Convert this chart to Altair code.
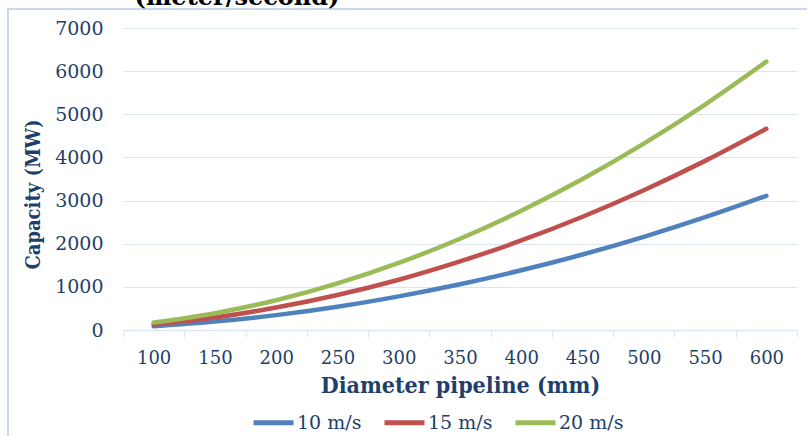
import altair as alt
import pandas as pd

diameters = ["100", "150", "200", "250", "300", "350", "400", "450", "500", "550", "600"]
speed_10 = [86, 195, 345, 540, 780, 1060, 1385, 1750, 2160, 2615, 3110]
speed_15 = [130, 290, 520, 810, 1165, 1590, 2075, 2625, 3240, 3920, 4665]
speed_20 = [173, 390, 690, 1080, 1555, 2115, 2765, 3500, 4320, 5225, 6220]
series_names = ["10 m/s", "15 m/s", "20 m/s"]
series_colors = ["#4F81BD", "#C0504D", "#9BBB59"]
y_ticks = [0, 1000, 2000, 3000, 4000, 5000, 6000, 7000]

rows = []
for name, vals in zip(series_names, [speed_10, speed_15, speed_20]):
    for d, v in zip(diameters, vals):
        rows.append({"Diameter": d, "Capacity": v, "Series": name})
df = pd.DataFrame(rows)

TXT = "#1F3F6B"
GRID = "#DCE6F2"
SERIF = "DejaVu Serif"
SERIF_C = "DejaVu Serif Condensed"

lines = alt.Chart(df).mark_line(strokeWidth=4.5, interpolate="monotone", strokeCap="round").encode(
    x=alt.X("Diameter:O", sort=diameters, bandPosition=0.5,
            scale=alt.Scale(type="band", paddingInner=0, paddingOuter=0),
            axis=alt.Axis(title="Diameter pipeline (mm)", labelAngle=0, tickBand="extent",
                          domainColor=GRID, tickColor=GRID, tickSize=7, domainWidth=1.5,
                          labelColor=TXT, labelFont=SERIF, labelFontSize=18, labelPadding=12,
                          titleColor=TXT, titleFont=SERIF_C, titleFontWeight="bold",
                          titleFontSize=23, titlePadding=7, grid=False)),
    y=alt.Y("Capacity:Q", scale=alt.Scale(domain=[0, 7000]),
            axis=alt.Axis(title="Capacity (MW)", values=y_ticks, format="d", domain=False, ticks=False,
                          gridColor=GRID, gridWidth=1.2,
                          labelColor=TXT, labelFont=SERIF, labelFontSize=19, labelPadding=20,
                          titleColor=TXT, titleFont=SERIF_C, titleFontWeight="bold",
                          titleFontSize=20, titleX=-90, titleY=166, titleBaseline="middle",
                          titleAngle=270)),
    color=alt.Color("Series:N", scale=alt.Scale(domain=series_names, range=series_colors),
                    legend=alt.Legend(title=None, orient="none", direction="horizontal",
                                      legendX=128, legendY=372, symbolType="stroke",
                                      symbolSize=1600, symbolStrokeWidth=5,
                                      labelFont=SERIF, labelFontSize=19, labelColor=TXT,
                                      labelOffset=1, columnPadding=12, labelLimit=200)),
)

one = pd.DataFrame({"a": [0]})
frame = alt.Chart(one).mark_rect(fill=None, stroke="#C6D9F1", strokeWidth=2).encode(
    x=alt.value(-115), x2=alt.value(700), y=alt.value(-19), y2=alt.value(420)
)
cut_title = alt.Chart(one).mark_text(text="(meter/second)", font=SERIF, fontWeight="bold",
                                     fontSize=24, color="#000000", align="center",
                                     baseline="alphabetic").encode(
    x=alt.value(114), y=alt.value(-23)
)

chart = alt.layer(frame, lines, cut_title).properties(
    width=674, height=302,
    padding={"left": 123, "top": 28, "right": 10, "bottom": 106},
    autosize=alt.AutoSizeParams(type="none"),
    background="white",
).configure_view(stroke=None)

chart.save("out.html", embed_options={"renderer": "svg", "actions": False})
